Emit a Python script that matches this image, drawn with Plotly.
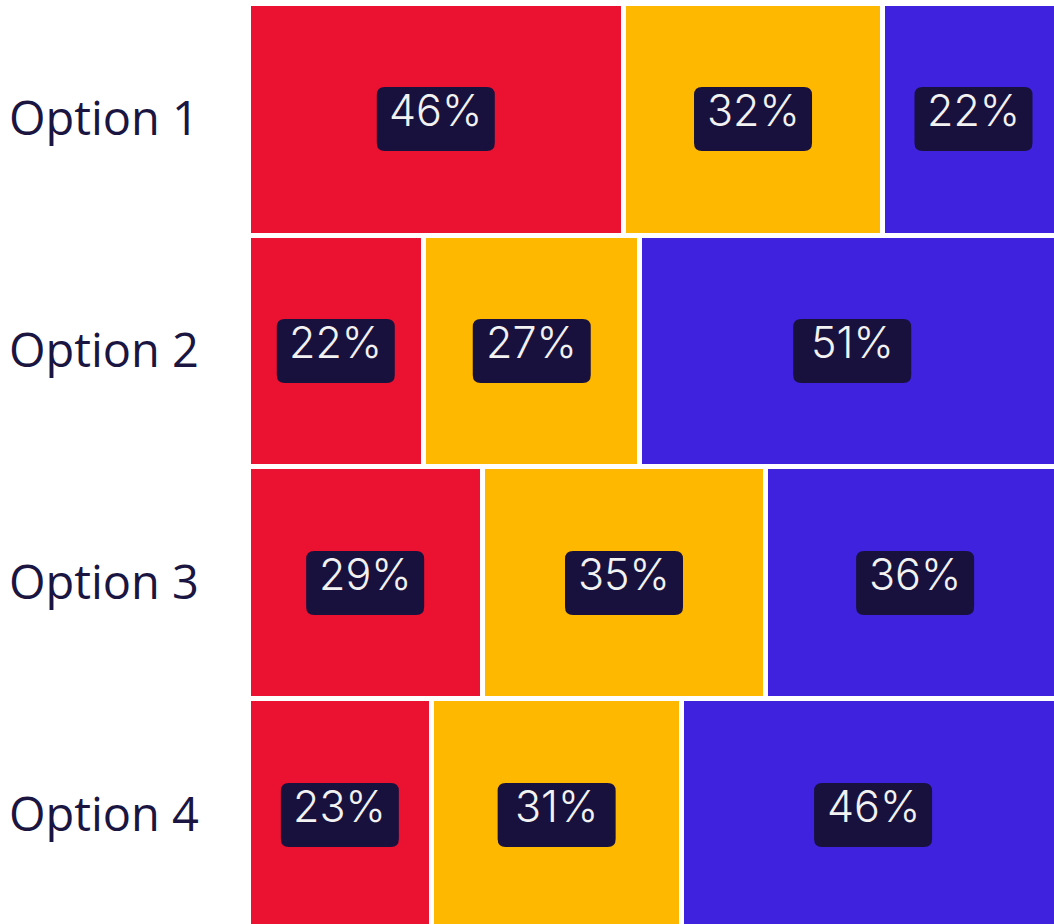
import plotly.graph_objects as go

categories = ["Option 1", "Option 2", "Option 3", "Option 4"]
series_names = ["A", "B", "C"]
values_a = [46.0, 21.5, 28.7, 22.5]
values_b = [31.7, 26.5, 34.7, 30.6]
values_c = [22.3, 52.0, 36.6, 46.9]
labels_a = ["46%", "22%", "29%", "23%"]
labels_b = ["32%", "27%", "35%", "31%"]
labels_c = ["22%", "51%", "36%", "46%"]
colors = ["#EA1131", "#FFB800", "#3F22DE"]

series = [values_a, values_b, values_c]
labels = [labels_a, labels_b, labels_c]
ypos = list(range(len(categories)))

fig = go.Figure()
for name, vals, col in zip(series_names, series, colors):
    fig.add_trace(go.Bar(
        y=ypos, x=vals, name=name, orientation="h",
        width=1.0,
        marker=dict(color=col, line=dict(color="white", width=5)),
        hoverinfo="skip",
    ))

# rounded label boxes (pixel-sized, anchored at segment centres)
W, H, R = 118, 64, 8
hw, hh = W / 2, H / 2
path = (f"M {-hw+R},{-hh} L {hw-R},{-hh} Q {hw},{-hh} {hw},{-hh+R} "
        f"L {hw},{hh-R} Q {hw},{hh} {hw-R},{hh} L {-hw+R},{hh} "
        f"Q {-hw},{hh} {-hw},{hh-R} L {-hw},{-hh+R} Q {-hw},{-hh} {-hw+R},{-hh} Z")

shapes = []
annotations = []
for i in ypos:
    start = 0
    for vals, labs in zip(series, labels):
        v = vals[i]
        cx = start + v / 2
        shapes.append(dict(
            type="path", xref="x", yref="y",
            xsizemode="pixel", ysizemode="pixel",
            xanchor=cx, yanchor=i, path=path,
            fillcolor="#18113E", line=dict(width=0), layer="above",
        ))
        annotations.append(dict(
            x=cx, y=i, xref="x", yref="y", text=labs[i],
            showarrow=False, yshift=9,
            font=dict(family="Inter", size=43, color="#F2F2F2", weight=300),
        ))
        start += v

fig.update_layout(
    barmode="stack",
    width=1054, height=924,
    margin=dict(l=248, r=0, t=0, b=0),
    paper_bgcolor="white", plot_bgcolor="white",
    showlegend=False,
    shapes=shapes, annotations=annotations,
    xaxis=dict(range=[0, 98.71], visible=False, fixedrange=True),
    yaxis=dict(
        range=[3.470, -0.513],
        tickvals=ypos, ticktext=categories,
        showgrid=False, zeroline=False, showline=False,
        ticks="", ticklabelstandoff=48,
        tickfont=dict(family="Open Sans", size=47, color="#1B1541"),
        fixedrange=True,
    ),
)

fig.write_html("out.html", config={"displayModeBar": False},
               post_script="document.body.style.margin='0px';")
